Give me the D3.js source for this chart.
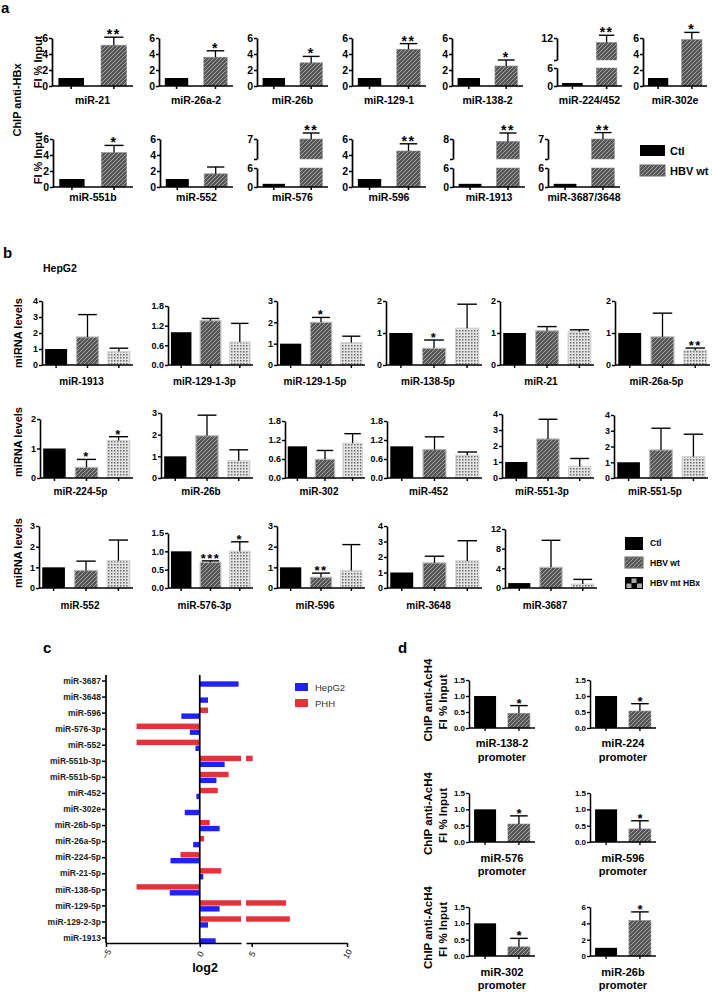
<!DOCTYPE html>
<html><head><meta charset="utf-8">
<script src="https://cdn.jsdelivr.net/npm/d3@7"></script>
<style>body{margin:0;background:#fff}svg{display:block}</style>
</head><body><svg id="chart" width="712" height="992"></svg>
<script>
// ================= DATA =================
// Panel a : ChIP anti-HBx, FI % Input
const aGroups = ["Ctl", "HBV wt"];
const aRow1Names = ["miR-21","miR-26a-2","miR-26b","miR-129-1","miR-138-2","miR-224/452","miR-302e"];
const aRow1Ctl = [1,1,1,1,1,1,1];
const aRow1Hbv = [5.1,3.6,2.9,4.6,2.5,11.2,5.8];
const aRow1HbvErr = [1.0,0.8,0.8,0.7,0.75,1.3,0.9];
const aRow1Stars = ["**","*","*","**","*","**","*"];
const aRow1Breaks = [null,null,null,null,null,[6,8,12],null]; // [lower max, upper from, upper to]
const aTicks = [0,2,4,6];

const aRow2Names = ["miR-551b","miR-552","miR-576","miR-596","miR-1913","miR-3687/3648"];
const aRow2Ctl = [1,1,1,1,1,1];
const aRow2Hbv = [4.3,1.65,7.0,4.5,7.88,7.0];
const aRow2HbvErr = [0.9,0.85,0.15,0.9,0.42,0.16];
const aRow2Stars = ["*","","**","**","**","**"];
const aRow2Breaks = [null,null,[6,6.5,7],null,[6,7,8],[6,6.5,7]];

// Panel b : HepG2 miRNA levels
const bGroups = ["Ctl","HBV wt","HBV mt HBx"];
const bNames = ["miR-1913","miR-129-1-3p","miR-129-1-5p","miR-138-5p","miR-21","miR-26a-5p",
                "miR-224-5p","miR-26b","miR-302","miR-452","miR-551-3p","miR-551-5p",
                "miR-552","miR-576-3p","miR-596","miR-3648","miR-3687"];
const bCtl   = [1,1,1,1,1,1, 1,1,1,1,1,1, 1,1,1,1,1];
const bWt    = [1.75,1.35,2.0,0.52,1.07,0.88, 0.36,1.95,0.59,0.9,2.44,1.78, 0.85,0.7,0.52,1.62,4.2];
const bWtErr = [1.4,0.07,0.23,0.26,0.13,0.74, 0.27,0.95,0.28,0.4,1.23,1.38, 0.45,0.04,0.2,0.43,5.5];
const bMt    = [0.85,0.7,1.05,1.15,1.04,0.46, 1.27,0.8,1.1,0.72,0.72,1.36, 1.32,1.0,0.85,1.75,0.8];
const bMtErr = [0.2,0.57,0.3,0.75,0.06,0.07, 0.13,0.5,0.3,0.1,0.5,1.42, 1.0,0.26,1.25,1.3,0.95];
const bWtStars = ["","","*","*","","", "*","","","","","", "","***","**","",""];
const bMtStars = ["","","","","","**", "*","","","","","", "","*","","",""];
const bMax  = [4,1.8,3,2,2,2, 2,3,1.8,1.8,4,4, 3,1.5,3,4,12];
const bStep = [1,0.6,1,1,1,1, 1,1,0.6,0.6,1,1, 1,0.5,1,1,4];

// Panel c : log2 fold change
const cNames = ["miR-3687","miR-3648","miR-596","miR-576-3p","miR-552","miR-551b-3p","miR-551b-5p",
                "miR-452","miR-302e","miR-26b-5p","miR-26a-5p","miR-224-5p","miR-21-5p","miR-138-5p",
                "miR-129-5p","miR-129-2-3p","miR-1913"];
const cHepG2 = [2.07,0.44,-0.98,-0.53,-0.23,1.33,0.89,-0.18,-0.8,1.06,-0.35,-1.56,0.19,-1.6,1.06,0.44,0.85];
const cPHH   = [0,0,0.44,-3.37,-3.37,5.05,1.54,0.96,0,0.53,0.23,-1.03,1.15,-3.37,6.8,7.0,0];
const cSeries = ["HepG2","PHH"];
const cTicks = [-5,0,5,10];

// Panel d : ChIP anti-AcH4 at promoters
const dNames = ["miR-138-2","miR-224","miR-576","miR-596","miR-302","miR-26b"];
const dCtl = [1,1,1,1,1,1];
const dHbv = [0.46,0.53,0.55,0.4,0.28,4.35];
const dHbvErr = [0.24,0.23,0.25,0.25,0.26,1.05];
const dStars = ["*","*","*","*","*","*"];
const dMax = [1.5,1.5,1.5,1.5,1.5,6];
const dStep = [0.5,0.5,0.5,0.5,0.5,2];

// ================= DRAWING =================
const svg = d3.select("#chart");
const FONT = '"Liberation Sans", Arial, Helvetica, sans-serif';
const defs = svg.append("defs");
const ph = defs.append("pattern").attr("id","hatch").attr("patternUnits","userSpaceOnUse").attr("width",4).attr("height",4);
ph.append("rect").attr("width",4).attr("height",4).attr("fill","#565656");
ph.append("path").attr("d","M-1,1L1,-1M0,4L4,0M3,5L5,3").attr("stroke","#a3a3a3").attr("stroke-width",1);
const pd = defs.append("pattern").attr("id","dots").attr("patternUnits","userSpaceOnUse").attr("width",3).attr("height",3);
pd.append("rect").attr("width",3).attr("height",3).attr("fill","#e4e4e4");
pd.append("rect").attr("width",1.5).attr("height",1.5).attr("fill","#6a6a6a");

function label(x, y, s, size, o = {}) {
  const t = svg.append("text").attr("x", x).attr("y", y).text(s)
    .attr("font-family", FONT).attr("font-size", size).attr("font-weight", o.weight || "bold")
    .attr("text-anchor", o.anchor || "start").attr("fill", o.fill || "#000");
  if (o.rotate) t.attr("transform", `rotate(${o.rotate},${x},${y})`);
  if (o.ls) t.attr("letter-spacing", o.ls);
  return t;
}

function styleAxis(ax, size, sw) {
  ax.attr("font-family", FONT).attr("font-size", size).attr("font-weight", "bold");
  ax.select(".domain").attr("stroke", "#000").attr("stroke-width", sw);
  ax.selectAll(".tick line").attr("stroke", "#000").attr("stroke-width", sw * 0.9);
  ax.selectAll(".tick text").attr("fill", "#000");
}

// generic vertical bar subplot
function barPlot(p) {
  const g = svg.append("g");
  const xs = d3.scaleBand().domain(d3.range(p.values.length)).range([p.x0, p.x1])
    .paddingInner(p.pi).paddingOuter(p.po);
  const bw = xs.bandwidth();
  let segs, yv, brk = p.brk;
  if (brk) {
    const yl = d3.scaleLinear().domain([0, brk[0]]).range([p.yZero, p.lowTopY]);
    const yu = d3.scaleLinear().domain([brk[1], brk[2]]).range([p.upBotY, p.yTop]);
    segs = [{s: yl, t: [0, brk[0]], f: v => p.fmt(v)},
            {s: yu, t: [brk[1], brk[2]], f: v => v === brk[2] ? p.fmt(v) : ""}];
    yv = v => v <= brk[0] ? yl(v) : yu(v);
  } else {
    const y = d3.scaleLinear().domain([0, p.max]).range([p.yZero, p.yTop]);
    segs = [{s: y, t: p.ticks, f: v => p.fmt(v)}];
    yv = v => y(v);
  }
  p.values.forEach((v, i) => {
    const x = xs(i);
    const parts = (brk && v > brk[0]) ? [[p.lowTopY, p.yZero], [yv(v), p.upBotY]] : [[yv(v), p.yZero]];
    parts.forEach(([a, b]) => {
      g.append("rect").attr("x", x).attr("y", a).attr("width", bw).attr("height", Math.max(0, b - a))
        .attr("fill", p.fills[i]).attr("stroke", p.strokes[i]).attr("stroke-width", p.strokes[i] === "none" ? 0 : p.bsw);
    });
    const e = p.errs[i];
    if (e > 0) {
      const cx = x + bw / 2, yt = yv(v + e);
      g.append("line").attr("x1", cx).attr("x2", cx).attr("y1", yv(v)).attr("y2", yt).attr("stroke", "#000").attr("stroke-width", 1.3);
      g.append("line").attr("x1", cx - bw * p.cap / 2).attr("x2", cx + bw * p.cap / 2).attr("y1", yt).attr("y2", yt).attr("stroke", "#000").attr("stroke-width", 1.4);
    }
    if (p.stars[i]) {
      g.append("text").attr("x", x + bw / 2).attr("y", yv(v + e) + p.starDy).text(p.stars[i])
        .attr("text-anchor", "middle").attr("font-family", FONT).attr("font-weight", "bold")
        .attr("font-size", p.starFont).attr("letter-spacing", p.starLs || 0);
    }
  });
  segs.forEach(sg => {
    const ax = g.append("g").attr("transform", `translate(${p.x0},0)`)
      .call(d3.axisLeft(sg.s).tickValues(sg.t).tickFormat(sg.f).tickSize(3).tickSizeOuter(0).tickPadding(1));
    styleAxis(ax, p.tickFont, p.sw);
  });
  const xa = g.append("g").attr("transform", `translate(0,${p.yZero})`)
    .call(d3.axisBottom(xs).tickSize(3).tickSizeOuter(0).tickFormat(""));
  xa.select(".domain").attr("d", `M${p.x0},0H${p.x1}`);
  styleAxis(xa, p.tickFont, p.sw);
  (Array.isArray(p.label) ? p.label : [p.label]).forEach((s, k) => {
    label((p.x0 + p.x1) / 2 + (p.lblOff || 0), p.labelY[k], s, p.labelFont, {anchor: "middle"});
  });
}

const intF = d3.format("d"), decF = d3.format(".1f");

// ---------- Panel a ----------
label(1, 13, "a", 15);
label(21, 100, "ChIP anti-HBx", 11, {anchor: "middle", rotate: -90});
label(42, 62, "FI % Input", 11, {anchor: "middle", rotate: -90});
label(42, 158, "FI % Input", 11, {anchor: "middle", rotate: -90});

const aRow1X = [[52,133],[159,233],[257,328],[352,426],[452,523],[557,622],[643,707]];
const aRow2X = [[53,133],[160,233],[257,328],[352,426],[453,525],[548,620]];
function aPanel(names, ctl, hbv, err, stars, breaks, xs, yZero, yTop, lowTopY, upBotY, labelY) {
  names.forEach((n, i) => {
    barPlot({
      x0: xs[i][0], x1: xs[i][1], yZero, yTop, lowTopY, upBotY, brk: breaks[i],
      max: 6, ticks: aTicks, fmt: intF,
      values: [ctl[i], hbv[i]], errs: [0, err[i]], stars: ["", stars[i]],
      fills: ["#000", "url(#hatch)"], strokes: ["none", "#8a8a8a"], bsw: 0.6,
      pi: 0.4, po: 0.15, cap: 0.75, tickFont: 10.5, sw: 1.7,
      starFont: 14, starDy: 2, starLs: 1.5, label: n, labelY: [labelY], labelFont: 10.5
    });
  });
}
aPanel(aRow1Names, aRow1Ctl, aRow1Hbv, aRow1HbvErr, aRow1Stars, aRow1Breaks, aRow1X, 86, 38, 68, 60, 104);
aPanel(aRow2Names, aRow2Ctl, aRow2Hbv, aRow2HbvErr, aRow2Stars, aRow2Breaks, aRow2X, 187, 139, 168, 159, 201);
svg.append("rect").attr("x", 640).attr("y", 145).attr("width", 25).attr("height", 11).attr("fill", "#000");
svg.append("rect").attr("x", 640).attr("y", 165).attr("width", 25).attr("height", 11).attr("fill", "url(#hatch)").attr("stroke", "#666").attr("stroke-width", 1);
label(670, 155, aGroups[0], 11);
label(670, 175, aGroups[1], 11);

// ---------- Panel b ----------
label(3, 258, "b", 15);
label(43, 272, "HepG2", 10.5);
label(22, 333, "miRNA levels", 11, {anchor: "middle", rotate: -90});
label(22, 442, "miRNA levels", 11, {anchor: "middle", rotate: -90});
label(22, 553, "miRNA levels", 11, {anchor: "middle", rotate: -90});
const bX = [[42,133],[168,253],[277,365],[386,482],[500,594],[615,710],
            [40,133],[161,253],[285,365],[387,482],[502,594],[614,708],
            [39,133],[168,253],[277,365],[387,482],[505,597]];
const bZero = [365,365,365,365,365,365, 478,478,478,478,478,478, 588,588,588,588,588];
const bTop  = [301,306,301,301,301,301, 419,413,421,421,414,415, 526,533,526,526,529];
const bLabelY = [385,385,385,385,385,385, 495,495,495,495,495,495, 609,609,609,609,609];
bNames.forEach((n, i) => {
  barPlot({
    x0: bX[i][0], x1: bX[i][1], yZero: bZero[i], yTop: bTop[i],
    max: bMax[i], ticks: d3.range(0, bMax[i] + 1e-9, bStep[i]), fmt: bStep[i] < 1 ? decF : intF,
    values: [bCtl[i], bWt[i], bMt[i]], errs: [0, bWtErr[i], bMtErr[i]], stars: ["", bWtStars[i], bMtStars[i]],
    fills: ["#000", "url(#hatch)", "url(#dots)"], strokes: ["none", "#b8b8b8", "#d4d4d4"], bsw: 1.2,
    pi: 0.3, po: 0.1, cap: 0.85, tickFont: 9, sw: 1.6,
    starFont: 13, starDy: 2, starLs: 1.5, label: n, labelY: [bLabelY[i]], labelFont: 10, lblOff: -6
  });
});
svg.append("rect").attr("x", 625).attr("y", 537).attr("width", 18).attr("height", 13).attr("fill", "#000");
svg.append("rect").attr("x", 625).attr("y", 557).attr("width", 18).attr("height", 11).attr("fill", "url(#hatch)").attr("stroke", "#777").attr("stroke-width", 1.2);
const sw3 = svg.append("g").attr("transform", "translate(625,577)");
sw3.append("rect").attr("width", 18).attr("height", 12).attr("fill", "#000");
[[6.5,1.5],[1.5,6.5],[12,6.5]].forEach(([x, y]) => sw3.append("rect").attr("x", x).attr("y", y).attr("width", 5).attr("height", 4.5).attr("fill", "#a8a8a8"));
label(650, 546, bGroups[0], 8.5);
label(650, 566, bGroups[1], 8.5);
label(650, 586, bGroups[2], 8.5);

// ---------- Panel c ----------
label(43, 653, "c", 15);
const xLo = d3.scaleLinear().domain([-5, 2.2]).range([106, 241]);
const xHi = d3.scaleLinear().domain([4.7, 10]).range([246, 347]);
const yc = d3.scaleBand().domain(cNames).range([673, 946]);
const cColors = {HepG2: "#1f22f0", PHH: "#e4313b"};
const gc = svg.append("g");
function hbar(v, yTop, h, color) {
  const pieces = v <= 2.2 ? [[Math.min(xLo(0), xLo(v)), Math.max(xLo(0), xLo(v))]]
                          : [[xLo(0), xLo.range()[1]], [xHi.range()[0], xHi(v)]];
  pieces.forEach(([a, b]) => gc.append("rect").attr("x", a).attr("y", yTop).attr("width", b - a).attr("height", h).attr("fill", color));
}
cNames.forEach((n, i) => {
  const c = yc(n) + yc.bandwidth() / 2;
  if (cPHH[i] !== 0) hbar(cPHH[i], c - 5.6, 5.4, cColors.PHH);
  if (cHepG2[i] !== 0) hbar(cHepG2[i], c + 0.3, 5.4, cColors.HepG2);
});
const cya = gc.append("g").attr("transform", "translate(106,0)").call(d3.axisLeft(yc).tickSize(4).tickSizeOuter(0).tickPadding(1));
cya.select(".domain").attr("d", "M0,675V943");
styleAxis(cya, 8.5, 1.7);
cya.selectAll(".tick text").attr("fill", "#222");
const cxa1 = gc.append("g").attr("transform", "translate(0,943)").call(d3.axisBottom(xLo).tickValues(cTicks.filter(t => t <= 2.2)).tickFormat(intF).tickSize(4).tickSizeOuter(0));
const cxa2 = gc.append("g").attr("transform", "translate(0,943)").call(d3.axisBottom(xHi).tickValues(cTicks.filter(t => t >= 4.7)).tickFormat(intF).tickSize(4).tickSizeOuter(0));
[cxa1, cxa2].forEach(ax => {
  styleAxis(ax, 8.5, 1.7);
  ax.selectAll(".tick text").attr("font-weight", "normal").attr("y", 0).attr("dy", "0.35em")
    .attr("transform", "translate(0,11) rotate(-60)").attr("text-anchor", "middle");
});
gc.append("line").attr("x1", xLo(0)).attr("x2", xLo(0)).attr("y1", 675).attr("y2", 943).attr("stroke", "#000").attr("stroke-width", 1.7);
label(205, 972, "log2", 12.5, {anchor: "middle"});
cSeries.forEach((s, k) => {
  svg.append("rect").attr("x", 295).attr("y", 683 + k * 16).attr("width", 13).attr("height", 8).attr("fill", cColors[s]);
  label(315, 691 + k * 16, s, 9.5, {weight: "normal", fill: "#333"});
});

// ---------- Panel d ----------
label(398, 653, "d", 15);
const dX = [[469,535],[590,656]];
const dZero = [728, 842, 956];
const dTop = [680, 793, 907];
const dLabY = [[747,761],[862,875],[976,989]];
[0,1,2].forEach(r => {
  label(432, (dZero[r] + dTop[r]) / 2 - 4, "ChIP anti-AcH4", 11.5, {anchor: "middle", rotate: -90});
  label(447, (dZero[r] + dTop[r]) / 2 - 2, "FI % Input", 11.5, {anchor: "middle", rotate: -90});
});
dNames.forEach((n, i) => {
  const r = Math.floor(i / 2), c = i % 2;
  barPlot({
    x0: dX[c][0], x1: dX[c][1], yZero: dZero[r], yTop: dTop[r],
    max: dMax[i], ticks: d3.range(0, dMax[i] + 1e-9, dStep[i]), fmt: dStep[i] < 1 ? decF : intF,
    values: [dCtl[i], dHbv[i]], errs: [0, dHbvErr[i]], stars: ["", dStars[i]],
    fills: ["#000", "url(#hatch)"], strokes: ["none", "#8a8a8a"], bsw: 0.6,
    pi: 0.35, po: 0.15, cap: 0.8, tickFont: 8, sw: 1.5,
    starFont: 13, starDy: 2, label: [n, "promoter"], labelY: dLabY[r], labelFont: 11
  });
});
</script></body></html>
